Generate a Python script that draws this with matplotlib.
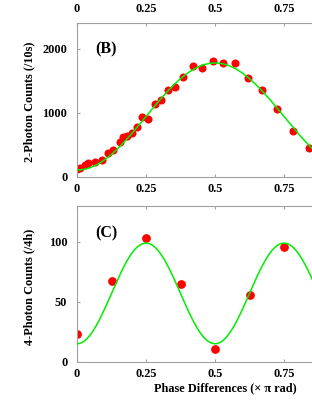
import matplotlib
matplotlib.use("Agg")
import matplotlib.pyplot as plt
import numpy as np

plt.rcParams['font.family'] = ['Liberation Serif', 'DejaVu Serif']
plt.rcParams['font.weight'] = 'bold'

# panel B: 2-photon counts (/10s)
phase_b = [0.001, 0.011, 0.029, 0.041, 0.065, 0.089, 0.113, 0.129, 0.156,
           0.168, 0.180, 0.198, 0.216, 0.236, 0.258, 0.283, 0.303, 0.331,
           0.355, 0.385, 0.419, 0.452, 0.492, 0.530, 0.572, 0.621, 0.669,
           0.724, 0.781, 0.842]
counts_b = [115, 131, 183, 209, 234, 261, 365, 417, 547,
            615, 636, 678, 781, 937, 905, 1136, 1200, 1355,
            1397, 1553, 1730, 1703, 1813, 1772, 1775, 1547, 1355,
            1053, 719, 453]
fit_b = dict(offset=105, amp=1670, freq=1.0)

# panel C: 4-photon counts (/4h)
phase_c = [0, 0.125, 0.25, 0.375, 0.5, 0.625, 0.75]
counts_c = [23, 67, 103, 64.5, 11, 56, 96]
fit_c = dict(offset=15, amp=84, freq=2.0)

xticks = [0, 0.25, 0.5, 0.75]
xticklabels = ['0', '0.25', '0.5', '0.75']

grey = '#a0a0a0'
fs = 8.8

fig = plt.figure(figsize=(3.12, 4.03), dpi=100)
W = 276 / 312


def style(ax):
    ax.set_xlim(0, 1)
    ax.set_xticks(xticks)
    ax.set_xticklabels(xticklabels)
    for s in ax.spines.values():
        s.set_color(grey)
        s.set_linewidth(0.8)
    ax.tick_params(direction='in', top=True, right=True, length=2.5,
                   color=grey, labelsize=fs, width=0.8)
    ax.tick_params(axis='x', pad=4.5)
    ax.tick_params(axis='y', pad=7)


# panel A (only its tick labels are visible above)
axa = fig.add_axes([77 / 312, 1 + 3.3 / 403, W, 0.3])
style(axa)
axa.set_yticks([])

xs = np.linspace(0, 1, 400)

axb = fig.add_axes([77 / 312, 1 - 176.7 / 403, W, 153.7 / 403])
style(axb)
axb.plot(xs, fit_b['offset'] + fit_b['amp'] * np.sin(np.pi * fit_b['freq'] * xs) ** 2,
         color='#00ee00', lw=1.1, zorder=3)
axb.plot(phase_b, counts_b, 'o', color='red', ms=5.8, mec='none', zorder=2)
axb.set_ylim(0, 2400)
axb.set_yticks([0, 1000, 2000])
axb.set_ylabel('2-Photon Counts (/10s)', fontsize=fs, fontweight='bold')
axb.yaxis.set_label_coords(-0.152, 0.49)
axb.text(0.104, 1990, '(B)', fontsize=11.5, fontweight='bold',
         ha='center', va='center')

axc = fig.add_axes([77 / 312, 1 - 361.7 / 403, W, 155.7 / 403])
style(axc)
axc.plot(xs, fit_c['offset'] + fit_c['amp'] * np.sin(np.pi * fit_c['freq'] * xs) ** 2,
         color='#00ee00', lw=1.1, zorder=3)
axc.plot(phase_c, counts_c, 'o', color='red', ms=6.3, mec='none', zorder=2)
axc.set_ylim(0, 130)
axc.set_yticks([0, 50, 100])
axc.set_ylabel('4-Photon Counts (/4h)', fontsize=fs, fontweight='bold')
axc.yaxis.set_label_coords(-0.152, 0.483)
axc.set_xlabel('Phase Differences (\u00d7 \u03c0 rad)', fontsize=fs, fontweight='bold')
axc.xaxis.set_label_coords(0.536, -0.135)
axc.text(0.105, 107.5, '(C)', fontsize=11.5, fontweight='bold',
         ha='center', va='center')

fig.savefig('out.png', dpi=100)
